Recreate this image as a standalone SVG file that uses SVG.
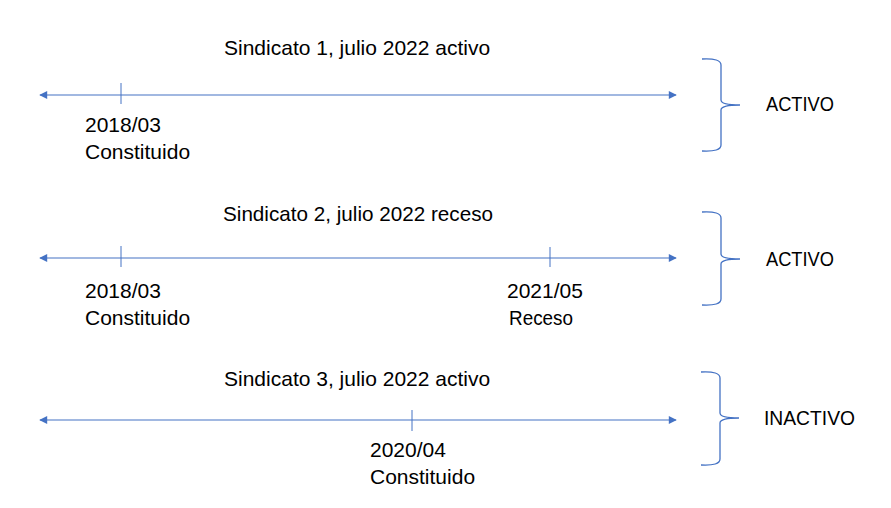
<svg xmlns="http://www.w3.org/2000/svg" width="891" height="508" viewBox="0 0 891 508">
<defs>
<marker id="ah" viewBox="0 0 10 10" refX="9" refY="5" markerWidth="9" markerHeight="8" markerUnits="userSpaceOnUse" orient="auto-start-reverse">
<path d="M0,0 L10,5 L0,10 Z" fill="#4472C4"/>
</marker>
<style>
.ln{stroke:#4472C4;stroke-width:1.2;fill:none}
.tk{stroke:#4472C4;stroke-width:1;fill:none}
.br{stroke:#4472C4;stroke-width:1.3;fill:none}
text{font-family:"Liberation Sans",Arial,sans-serif;font-size:21px;fill:#000}
</style>
</defs>
<rect width="891" height="508" fill="#fff"/>
<g id="connectors">
<line class="ln" x1="40" y1="95" x2="676" y2="95" marker-start="url(#ah)" marker-end="url(#ah)"/>
<line class="ln" x1="40" y1="258" x2="676" y2="258" marker-start="url(#ah)" marker-end="url(#ah)"/>
<line class="ln" x1="40" y1="420" x2="676" y2="420" marker-start="url(#ah)" marker-end="url(#ah)"/>
</g>
<g id="sindicato1">
<text x="224" y="55">Sindicato 1, julio 2022 activo</text>
<line class="tk" x1="121" y1="83" x2="121" y2="104"/>
<text x="85" y="132">2018/03</text>
<text x="85" y="159">Constituido</text>
</g>
<g id="sindicato2">
<text x="223" y="221" textLength="270" lengthAdjust="spacingAndGlyphs">Sindicato 2, julio 2022 receso</text>
<line class="tk" x1="121" y1="246" x2="121" y2="267"/>
<text x="85" y="298">2018/03</text>
<text x="85" y="325">Constituido</text>
<line class="tk" x1="550" y1="247" x2="550" y2="267"/>
<text x="507" y="298">2021/05</text>
<text x="509" y="325" textLength="64" lengthAdjust="spacingAndGlyphs">Receso</text>
</g>
<g id="sindicato3">
<text x="224" y="386">Sindicato 3, julio 2022 activo</text>
<line class="tk" x1="412" y1="410" x2="412" y2="431"/>
<text x="370" y="457">2020/04</text>
<text x="370" y="484">Constituido</text>
</g>
<g id="brace1">
<path class="br" d="M702,59 Q721,58 721,65 L721,100 Q721,105 740,105 Q721,105 721,110 L721,145 Q721,152 702,151"/>
<text x="766" y="111" textLength="68" lengthAdjust="spacingAndGlyphs">ACTIVO</text>
</g>
<g id="brace2">
<path class="br" d="M702,212 Q721,211 721,218 L721,254 Q721,259 740,259 Q721,259 721,264 L721,299 Q721,306 702,305"/>
<text x="766" y="266" textLength="68" lengthAdjust="spacingAndGlyphs">ACTIVO</text>
</g>
<g id="brace3">
<path class="br" d="M701,372 Q720,371 720,378 L720,413 Q720,418 739,418 Q720,418 720,423 L720,459 Q720,466 701,465"/>
<text x="764" y="425" textLength="91" lengthAdjust="spacingAndGlyphs">INACTIVO</text>
</g>
</svg>
